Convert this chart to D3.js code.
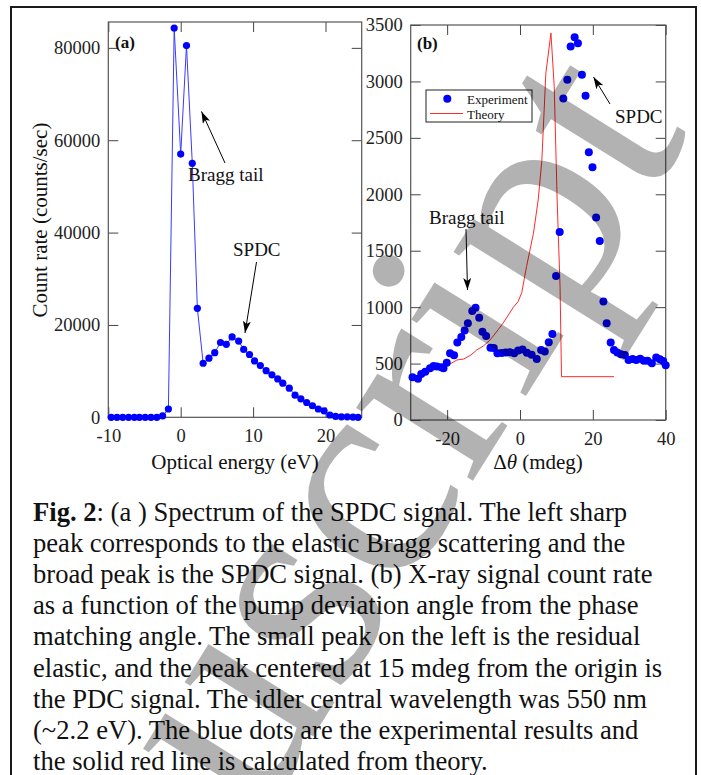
<!DOCTYPE html>
<html><head><meta charset="utf-8">
<script src="https://cdn.jsdelivr.net/npm/d3@7"></script>
<style>
body{margin:0;background:#fff}
svg{display:block}
text{font-family:"Liberation Serif","Times New Roman",serif}
</style>
</head><body>
<svg id="c" width="701" height="775"></svg>
<script>
// ---------- Data ----------
// Panel (a): spectrum
const energyEV = [-9.6,-8.8,-8.0,-7.2,-6.4,-5.7,-4.9,-4.1,-3.3,-2.5,-1.7,-0.9,0.0,0.8,1.6,2.3,3.1,3.9,4.7,5.5,6.3,7.1,8.0,8.7,9.5,10.2,11.0,11.8,12.6,13.4,14.1,15.0,15.8,16.6,17.4,18.2,19.0,19.8,20.6,21.4,22.2,23.0,23.8,24.5];
const countRateA = [0,0,0,0,0,0,0,0,0,300,1800,84300,57000,80500,55000,23600,11700,12800,14000,16200,15800,17400,16500,14700,13600,12200,11200,10100,9200,8300,7400,6300,4800,4000,3200,2500,1800,1400,500,200,100,100,50,0];
const xTicksA = [-10,0,10,20];
const yTicksA = [0,20000,40000,60000,80000];

// Panel (b): rocking curve
const angleMdeg = [-29.5,-28.0,-27.1,-26.0,-24.7,-23.7,-22.8,-21.6,-21.0,-20.1,-19.2,-18.1,-17.2,-16.1,-15.2,-14.3,-13.1,-12.2,-11.2,-10.3,-9.3,-8.1,-7.2,-6.2,-5.0,-3.9,-2.8,-1.6,-0.5,0.7,1.9,3.2,4.6,5.8,6.8,7.9,8.9,9.9,10.9,11.9,13.0,13.9,15.0,15.9,17.0,18.0,18.9,19.9,20.9,21.9,22.9,23.8,24.9,25.8,26.7,27.7,28.8,29.8,30.9,31.9,33.0,34.0,35.0,36.2,37.4,38.4,39.3,40.0];
const countRateB = [378,366,408,428,458,479,473,467,458,508,591,573,686,736,792,857,965,995,905,783,745,640,638,591,594,598,600,591,615,624,595,578,540,620,608,690,762,1277,1665,2849,3014,3310,3392,3339,3059,2872,2373,2240,1794,1587,1049,857,686,620,597,582,576,532,540,532,542,525,526,502,553,538,523,485];
const theoryAngle = [-30,-27,-24,-21,-19,-17.3,-15.5,-13.5,-11.9,-10.1,-8.5,-7.3,-6.0,-4.6,-3.0,-1.8,-0.5,0.5,1.8,3.7,5.0,6.0,7.1,8.5,9.4,10.2,11.0,11.4,25.8];
const theoryRate = [384,400,440,470,500,532,540,575,620,655,700,745,800,860,940,1000,1050,1130,1360,1655,1950,2300,3073,3428,2955,1950,1182,384,384];
const xTicksB = [-20,0,20,40];
const yTicksB = [0,500,1000,1500,2000,2500,3000,3500];

const legendLabels = ["Experiment","Theory"];
const captionBold = "Fig. 2";
const captionLines = [
  ": (a ) Spectrum of the SPDC signal. The left sharp",
  "peak corresponds to the elastic Bragg scattering and the",
  "broad peak is the SPDC signal. (b) X-ray signal count rate",
  "as a function of the pump deviation angle from the phase",
  "matching angle. The small peak on the left is the residual",
  "elastic, and the peak centered at 15 mdeg from the origin is",
  "the PDC signal. The idler central wavelength was 550 nm",
  "(~2.2 eV). The blue dots are the experimental results and",
  "the solid red line is calculated from theory."
];
const watermarkText = "Manuscript";

// ---------- Drawing ----------
const svg = d3.select("#c");
svg.append("rect").attr("width",701).attr("height",775).attr("fill","#fff");
svg.append("rect").attr("x",11).attr("y",7).attr("width",685).attr("height",800)
  .attr("fill","none").attr("stroke","#1a1a1a").attr("stroke-width",2);

const defs = svg.append("defs");
defs.append("marker").attr("id","ah").attr("viewBox","0 0 12 8").attr("refX",12).attr("refY",4)
  .attr("markerWidth",12).attr("markerHeight",8).attr("markerUnits","userSpaceOnUse").attr("orient","auto")
  .append("path").attr("d","M0,0 L12,4 L0,8 L3,4 Z").attr("fill","#000");
defs.append("clipPath").attr("id","fig").append("rect").attr("x",12).attr("y",8).attr("width",683).attr("height",767);

function frame(x, y, xTicks, yTicks){
  const [x0,x1] = x.range(), [y0,y1] = y.range();
  const g = svg.append("g");
  const st = sel => { sel.select(".domain").remove();
    sel.selectAll(".tick line").attr("stroke","#444");
    sel.selectAll(".tick text").attr("fill","#222").style("font-size","18.5px").style("font-family","Liberation Serif"); };
  g.append("g").attr("transform",`translate(${x0},0)`)
    .call(d3.axisLeft(y).tickValues(yTicks).tickSizeInner(-10).tickSizeOuter(0).tickPadding(8).tickFormat(d=>String(d))).call(st);
  g.append("g").attr("transform",`translate(${x1},0)`)
    .call(d3.axisRight(y).tickValues(yTicks).tickSizeInner(-10).tickSizeOuter(0).tickFormat("")).call(st);
  g.append("g").attr("transform",`translate(0,${y0})`)
    .call(d3.axisBottom(x).tickValues(xTicks).tickSizeInner(-10).tickSizeOuter(0).tickPadding(12).tickFormat(d=>String(d))).call(st);
  g.append("g").attr("transform",`translate(0,${y1})`)
    .call(d3.axisTop(x).tickValues(xTicks).tickSizeInner(-10).tickSizeOuter(0).tickFormat("")).call(st);
  g.append("rect").attr("x",x0).attr("y",y1).attr("width",x1-x0).attr("height",y0-y1)
    .attr("fill","none").attr("stroke","#555").attr("stroke-width",1.2);
}

function arrow(x1,y1,x2,y2){
  svg.append("line").attr("x1",x1).attr("y1",y1).attr("x2",x2).attr("y2",y2)
    .attr("stroke","#000").attr("stroke-width",1).attr("marker-end","url(#ah)");
}
function label(x,y,t,size,anchor,weight){
  return svg.append("text").attr("x",x).attr("y",y).text(t).style("font-size",size+"px")
    .attr("text-anchor",anchor||"start").attr("font-weight",weight||"normal").attr("fill","#111");
}

// Panel (a)
const xA = d3.scaleLinear().domain([-10,25]).range([108.3,361.7]);
const yA = d3.scaleLinear().domain([0,85600]).range([417.3,22]);
frame(xA,yA,xTicksA,yTicksA);
const dataA = energyEV.map((e,i)=>({x:e,y:countRateA[i]}));
svg.append("path").datum(dataA).attr("fill","none").attr("stroke","#3a3aff").attr("stroke-width",1)
  .attr("d",d3.line().x(d=>xA(d.x)).y(d=>yA(d.y)));
svg.append("g").selectAll("circle").data(dataA).join("circle")
  .attr("cx",d=>xA(d.x)).attr("cy",d=>yA(d.y)).attr("r",3.6).attr("fill","#0000ff");
label(115,48,"(a)",17,"start","bold");
label(188,181,"Bragg tail",19);
arrow(225,163,201.5,111.5);
label(233,256,"SPDC",19);
arrow(256.5,262,245,333);
label(235,469,"Optical energy (eV)",21,"middle");
svg.append("text").attr("transform","translate(47,220) rotate(-90)").attr("text-anchor","middle")
  .style("font-size","21px").attr("fill","#111").text("Count rate (counts/sec)");

// Panel (b)
const xB = d3.scaleLinear().domain([-30,40]).range([410.7,665.7]);
const yB = d3.scaleLinear().domain([0,3500]).range([420,25]);
frame(xB,yB,xTicksB,yTicksB);
const theory = theoryAngle.map((a,i)=>({x:a,y:theoryRate[i]}));
svg.append("path").datum(theory).attr("fill","none").attr("stroke","#ff2a2a").attr("stroke-width",1)
  .attr("d",d3.line().x(d=>xB(d.x)).y(d=>yB(d.y)));
const dataB = angleMdeg.map((a,i)=>({x:a,y:countRateB[i]}));
svg.append("g").selectAll("circle").data(dataB).join("circle")
  .attr("cx",d=>xB(d.x)).attr("cy",d=>yB(d.y)).attr("r",4).attr("fill","#0000ff");
label(417,49,"(b)",17,"start","bold");
label(429,224,"Bragg tail",19);
arrow(466,229,467.5,290);
label(615,123,"SPDC",19);
arrow(610,104,593.5,77);
const dt = svg.append("text").attr("x",538).attr("y",469).attr("text-anchor","middle").style("font-size","21px").attr("fill","#111");
dt.append("tspan").text("\u0394");
dt.append("tspan").attr("font-style","italic").text("\u03b8");
dt.append("tspan").text(" (mdeg)");

// Legend
svg.append("rect").attr("x",426).attr("y",90).attr("width",106).attr("height",32)
  .attr("fill","#fff").attr("stroke","#222").attr("stroke-width",1);
svg.append("circle").attr("cx",447.3).attr("cy",98.7).attr("r",4).attr("fill","#0000ff");
svg.append("line").attr("x1",430).attr("x2",463).attr("y1",113.5).attr("y2",113.5).attr("stroke","#ff2a2a").attr("stroke-width",1);
label(467,104,legendLabels[0],13);
label(467,119,legendLabels[1],13);

// Caption
captionLines.forEach((t,i)=>{
  const tx = svg.append("text").attr("x",33).attr("y",521+31.1*i).style("font-size","26.6px").attr("fill","#111");
  if(i===0){ tx.append("tspan").attr("font-weight","bold").text(captionBold); }
  tx.append("tspan").text(t);
});

// Watermark (diagonal, semi-transparent, over the figure)
const em = 300, ang = -58, rad = ang*Math.PI/180;
const dir = [Math.cos(rad), Math.sin(rad)], up = [Math.sin(rad), -Math.cos(rad)];
const wm = svg.append("g").attr("clip-path","url(#fig)").append("text").text(watermarkText)
  .style("font-size",em+"px").attr("fill","#000").attr("fill-opacity",0.3);
const offI = wm.node().getSubStringLength(0, watermarkText.indexOf("i"));
const dot = [383,268];
const iLeft = [dot[0]-0.13*em*dir[0]-0.63*em*up[0], dot[1]-0.13*em*dir[1]-0.63*em*up[1]];
const start = [iLeft[0]-offI*dir[0], iLeft[1]-offI*dir[1]];
wm.attr("transform",`translate(${start[0]},${start[1]}) rotate(${ang})`);
</script>
</body></html>
